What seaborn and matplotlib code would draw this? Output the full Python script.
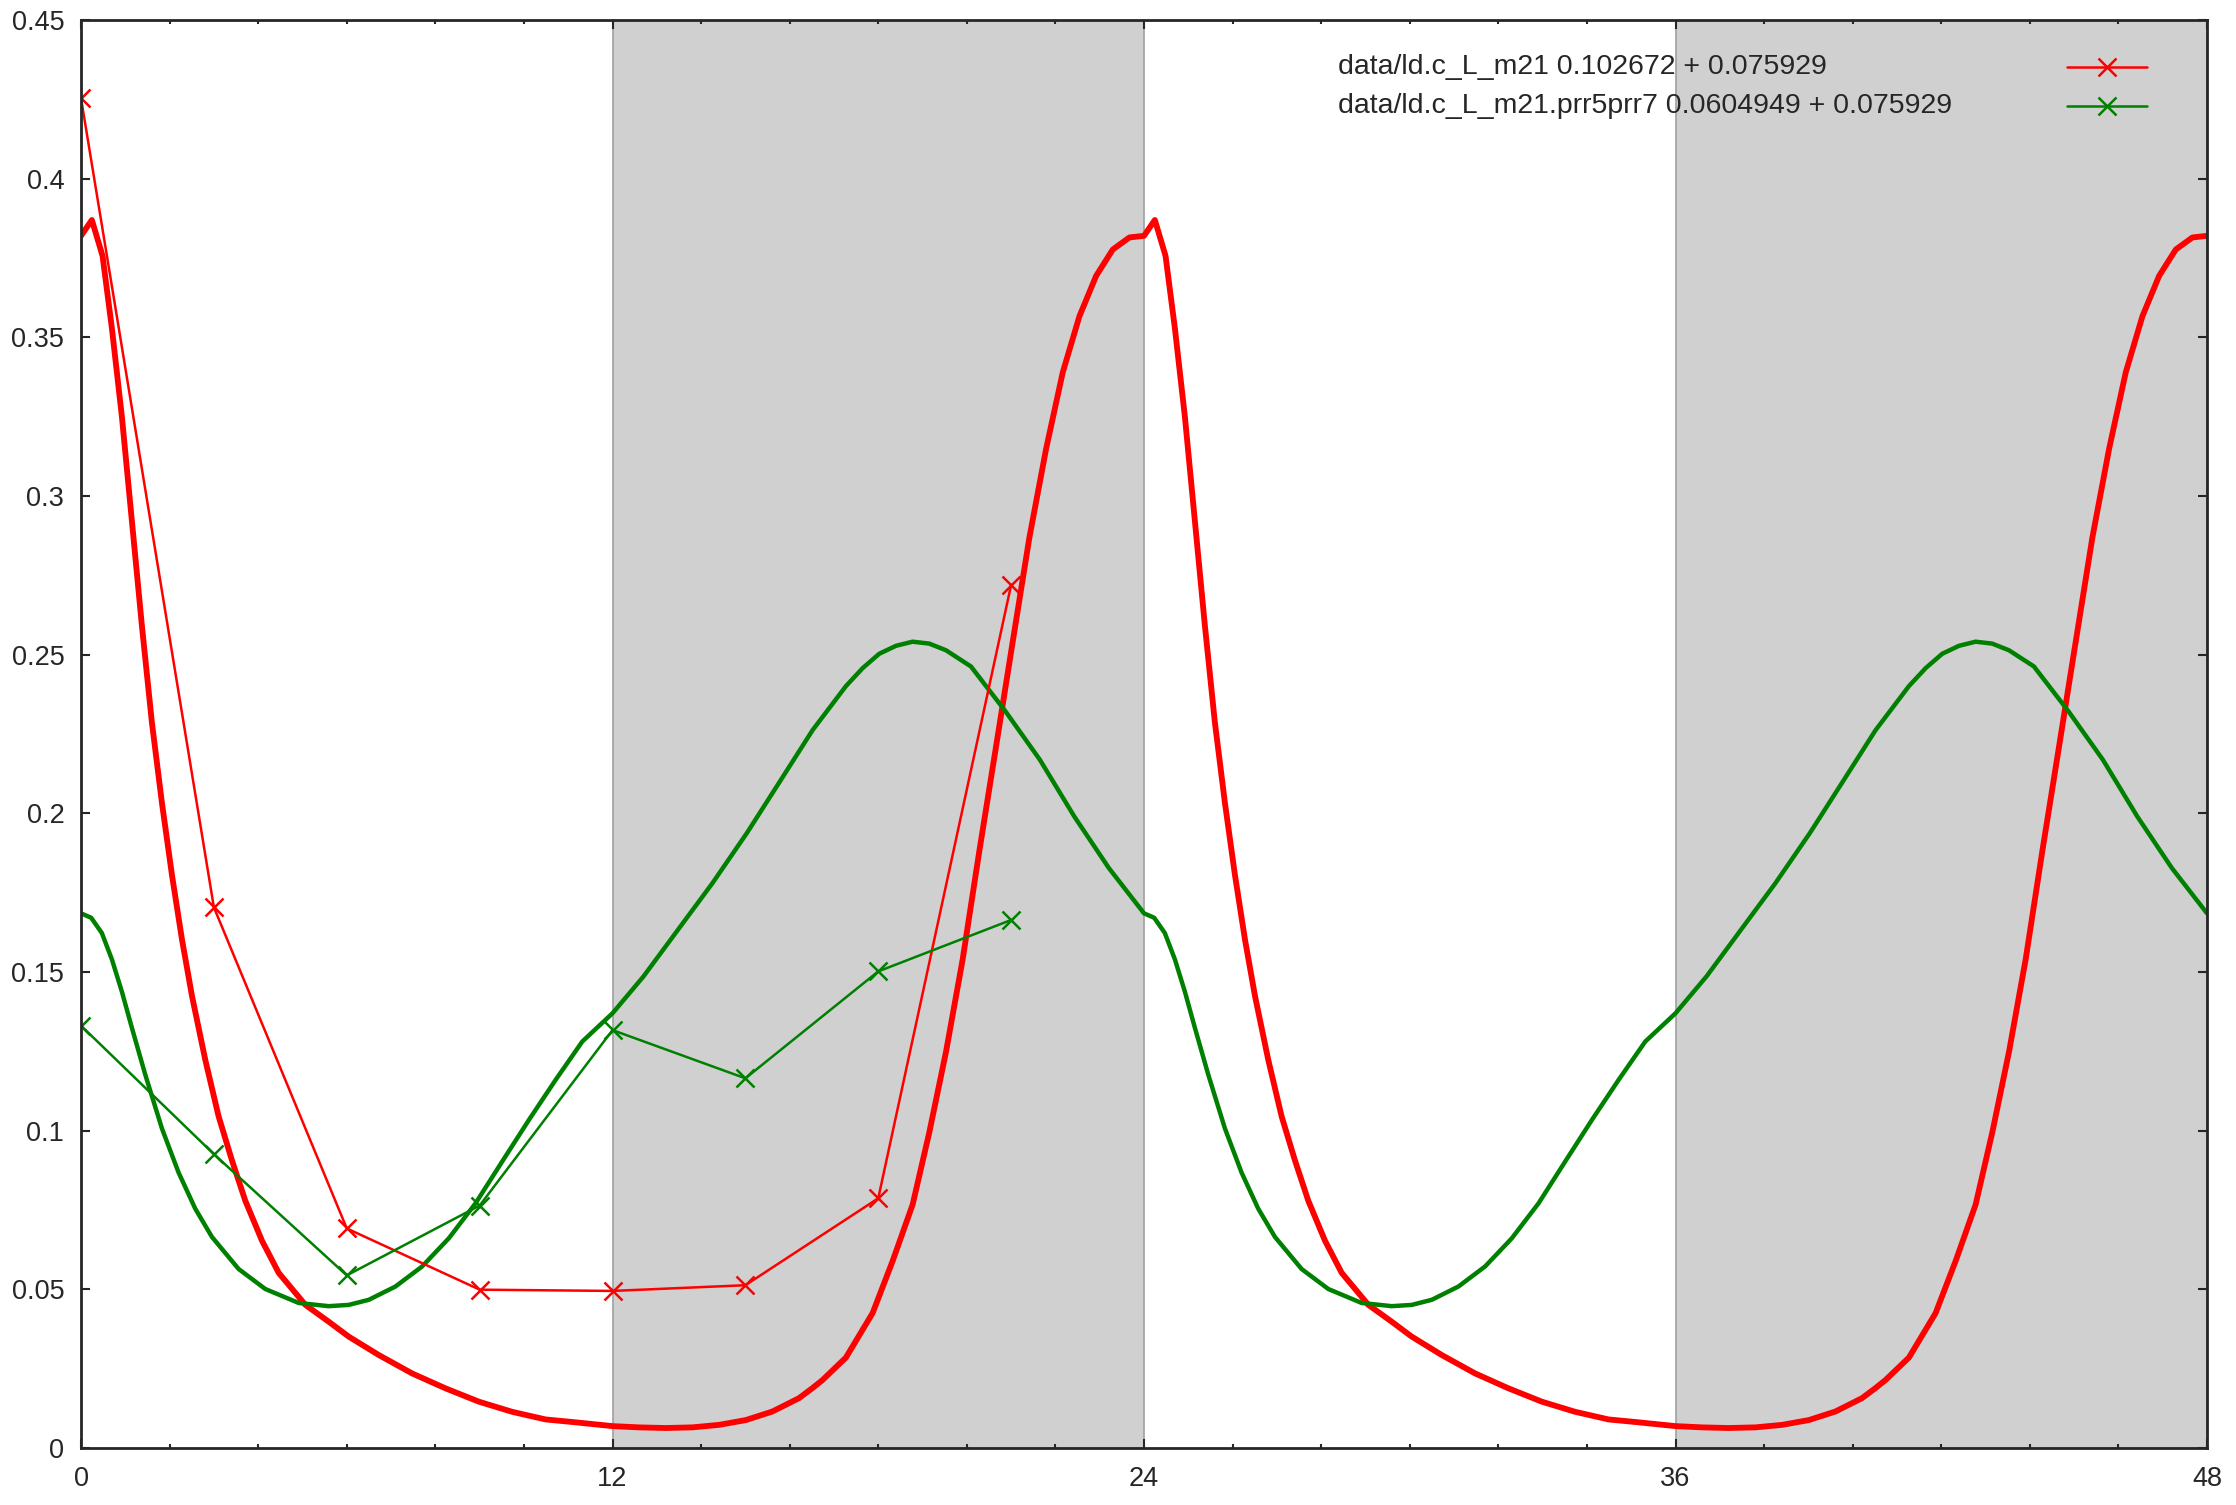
import matplotlib
matplotlib.use("Agg")
import matplotlib.pyplot as plt
from matplotlib.ticker import MultipleLocator, FuncFormatter
import pandas as pd
import seaborn as sns

sns.set_style("ticks")
plt.rcParams['font.family'] = ['Liberation Sans', 'DejaVu Sans']

# fitted curves over one day (hour -> value); the plot shows two days
red_hours = [0, 0.245, 0.486, 0.697, 0.923, 1.149, 1.375, 1.6, 1.827, 2.053, 2.279, 2.505,
             2.806, 3.107, 3.409, 3.71, 4.087, 4.463, 5.066, 5.593, 6.045, 6.723, 7.476,
             8.23, 8.983, 9.736, 10.49, 11.09, 12.0, 12.6, 13.2, 13.8, 14.41, 15.01, 15.61,
             16.21, 16.516, 16.74, 17.27, 17.872, 18.324, 18.776, 19.153, 19.529, 19.906,
             20.283, 20.66, 21.036, 21.413, 21.79, 22.166, 22.543, 22.92, 23.296, 23.672, 24]
red_model = [0.382, 0.387, 0.3757, 0.3529, 0.325, 0.2921, 0.2591, 0.2287, 0.2033, 0.1806,
             0.1603, 0.1425, 0.1223, 0.1045, 0.0906, 0.0779, 0.0653, 0.0552, 0.0451, 0.0398,
             0.0351, 0.0293, 0.0235, 0.0188, 0.0146, 0.0114, 0.009, 0.0082, 0.0069, 0.0065,
             0.0063, 0.0065, 0.0073, 0.0088, 0.0115, 0.0157, 0.0189, 0.0214, 0.0285, 0.0425,
             0.0589, 0.0767, 0.0995, 0.1248, 0.154, 0.1882, 0.2211, 0.2541, 0.287, 0.3149,
             0.339, 0.3567, 0.3694, 0.3777, 0.3815, 0.382]

green_hours = [0, 0.23, 0.47, 0.697, 0.923, 1.149, 1.45, 1.827, 2.203, 2.58, 2.957, 3.559,
               4.162, 4.915, 5.593, 6.045, 6.497, 7.1, 7.7, 8.305, 8.907, 9.51, 10.113,
               10.715, 11.318, 12.0, 12.699, 13.477, 14.256, 15.034, 15.763, 16.516, 17.27,
               17.65, 18.023, 18.4, 18.776, 19.15, 19.529, 20.092, 20.87, 21.649, 22.427,
               23.205, 24]
green_model = [0.1685, 0.1671, 0.1623, 0.154, 0.1438, 0.1324, 0.1177, 0.1007, 0.0868,
               0.0754, 0.0665, 0.0564, 0.0501, 0.0457, 0.0447, 0.0451, 0.0467, 0.0509,
               0.0572, 0.0661, 0.0771, 0.0903, 0.1034, 0.116, 0.1281, 0.137, 0.1486,
               0.1633, 0.178, 0.1938, 0.2097, 0.2262, 0.2401, 0.2458, 0.2503, 0.2528,
               0.2541, 0.2535, 0.2514, 0.2463, 0.2322, 0.2169, 0.199, 0.1828, 0.1685]

# measured samples
sample_hours = [0, 3, 6, 9, 12, 15, 18, 21]
red_samples = [0.4254, 0.1704, 0.0692, 0.0499, 0.0495, 0.0513, 0.0787, 0.272]
green_samples = [0.1331, 0.0926, 0.0544, 0.0764, 0.1317, 0.1165, 0.1502, 0.1664]

red_label = "data/ld.c_L_m21 0.102672 + 0.075929"
green_label = "data/ld.c_L_m21.prr5prr7 0.0604949 + 0.075929"

dark_periods = [(12, 24), (36, 48)]
days = [0, 24]

RED = "#ff0000"
GREEN = "#008000"


def two_days(hours, values):
    rows = []
    for d in days:
        for h, v in zip(hours, values):
            rows.append((h + d, v))
    return pd.DataFrame(rows, columns=["hour", "value"])


fig = plt.figure(figsize=(22.36, 15.05), dpi=100)
ax = fig.add_axes([0.03623, 0.03787, 0.9508, 0.9488])

for start, end in dark_periods:
    ax.axvspan(start, end, facecolor="#d0d0d0", edgecolor="#a0a0a0", linewidth=1.2, zorder=0)

sns.lineplot(data=two_days(red_hours, red_model), x="hour", y="value", sort=False,
             estimator=None, color=RED, linewidth=4.2, solid_joinstyle="round", ax=ax)
sns.lineplot(data=two_days(green_hours, green_model), x="hour", y="value", sort=False,
             estimator=None, color=GREEN, linewidth=3.2, solid_joinstyle="round", ax=ax)

samples = pd.DataFrame({"hour": sample_hours, "red": red_samples, "green": green_samples})
for col, color in [("red", RED), ("green", GREEN)]:
    sns.lineplot(data=samples, x="hour", y=col, color=color, linewidth=1.8, marker="x",
                 markersize=13, markeredgewidth=1.8, markeredgecolor=color, ax=ax)

ax.set_xlim(0, 48)
ax.set_ylim(0, 0.45)
ax.set_xlabel("")
ax.set_ylabel("")
ax.xaxis.set_major_locator(MultipleLocator(12))
ax.xaxis.set_minor_locator(MultipleLocator(2))
ax.yaxis.set_major_locator(MultipleLocator(0.05))
ax.yaxis.set_major_formatter(FuncFormatter(lambda v, p: "%g" % round(v, 3)))

ax.tick_params(which="both", direction="in", top=True, right=True, width=1.5, labelsize=19.5)
ax.tick_params(which="major", length=6.5)
ax.tick_params(which="minor", length=3.2)
ax.tick_params(axis="x", pad=13)
ax.tick_params(axis="y", pad=12)
for s in ax.spines.values():
    s.set_linewidth(2)
    s.set_zorder(5)

# gnuplot style key: text left, sample on the right
for y, label, color in [(0.9671, red_label, RED), (0.9398, green_label, GREEN)]:
    ax.text(0.5912, y, label, transform=ax.transAxes, ha="left", va="center", fontsize=20.5)
    ax.plot([0.9341, 0.9718], [y, y], transform=ax.transAxes, color=color, linewidth=1.8)
    ax.plot([0.953], [y], transform=ax.transAxes, color=color, marker="x",
            markersize=13, markeredgewidth=1.8)

fig.savefig("out.png", dpi=100)
